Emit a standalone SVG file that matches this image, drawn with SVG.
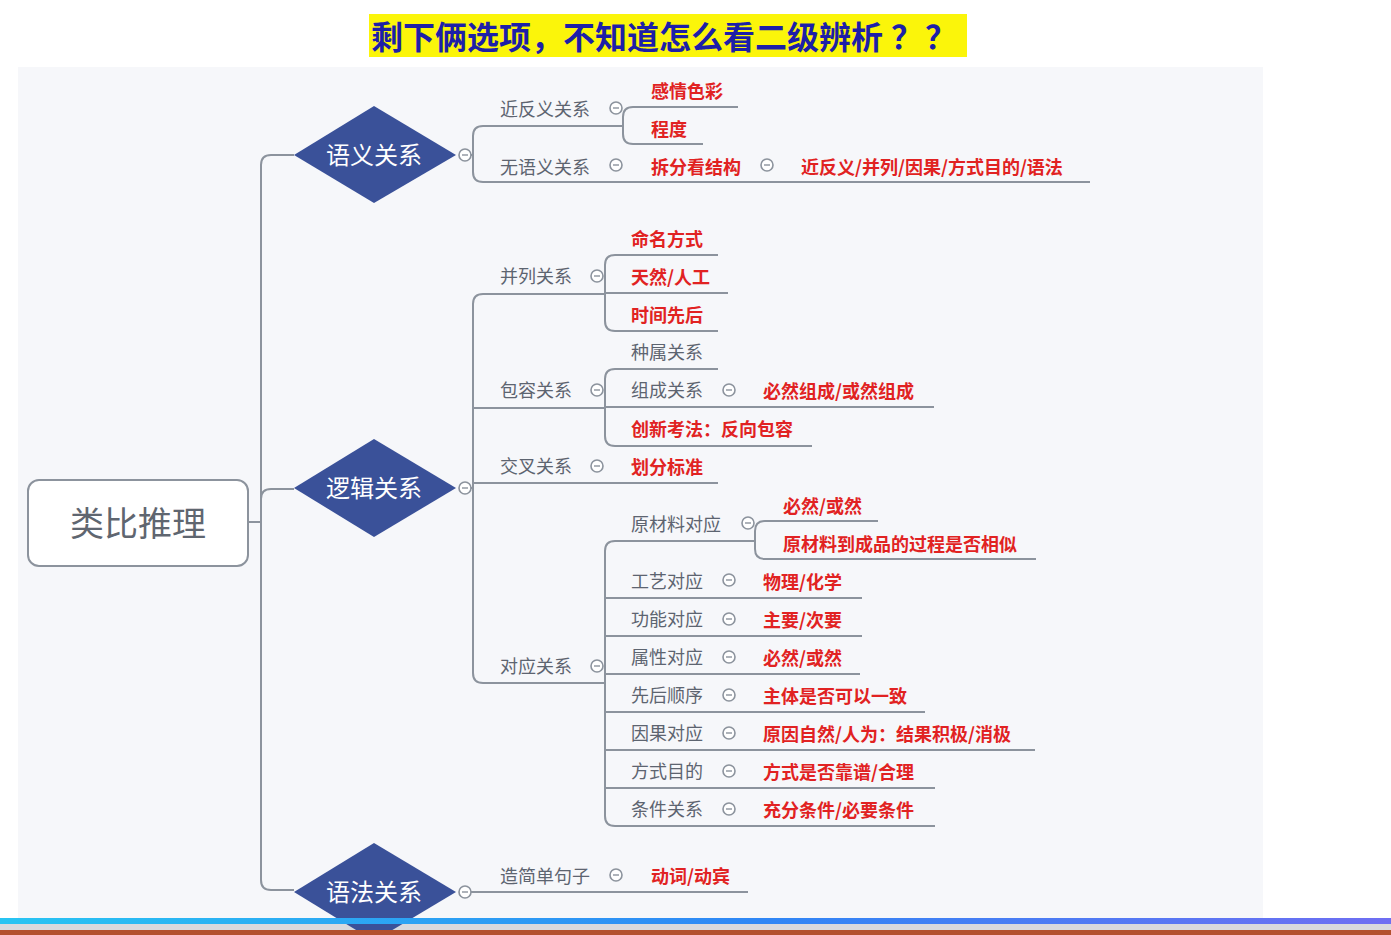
<svg xmlns="http://www.w3.org/2000/svg" width="1391" height="935" viewBox="0 0 1391 935">
<defs>
<style>
text{font-family:"Noto Sans CJK SC","Noto Sans",sans-serif;}
.g{font-size:18px;fill:#5d6470;}
.r{font-size:18px;fill:#e12222;font-weight:bold;}
.d{font-size:24px;fill:#ffffff;text-anchor:middle;}
.ln{fill:none;stroke:#8c939d;stroke-width:2;}
.c{fill:#ffffff;stroke:#8c939d;stroke-width:1.6;}
.dm{fill:#3a5199;}
</style>
<linearGradient id="bar" x1="0" x2="1" y1="0" y2="0">
<stop offset="0" stop-color="#28c4f2"/>
<stop offset="0.55" stop-color="#2f86f5"/>
<stop offset="1" stop-color="#6f6ef2"/>
</linearGradient>
<g id="col"><circle class="c" r="6"/><line x1="-3" y1="0" x2="3" y2="0" stroke="#8c939d" stroke-width="1.4"/></g>
</defs>
<rect width="1391" height="935" fill="#ffffff"/>
<rect x="18" y="67" width="1245" height="851" fill="#f6f7fa"/>
<rect x="0" y="924" width="1391" height="6" fill="#d9d9dd"/>

<g id="title">
<rect x="369" y="14" width="598" height="43" fill="#fbf50a"/>
<text x="371" y="49" font-size="32" font-weight="bold" fill="#1d1fa8">剩下俩选项，不知道怎么看二级辨析<tspan dx="8">？</tspan><tspan dx="2">？</tspan></text>
</g>

<g id="connectors">
<path class="ln" d="M248,522 H261"/>
<path class="ln" d="M294,155 H271 Q261,155 261,165 V880 Q261,890 271,890 H294"/>
<path class="ln" d="M261,499 Q261,489 271,489 H294"/>
<path class="ln" d="M459,155 H473"/>
<path class="ln" d="M623,126 H483 Q473,126 473,136 V172 Q473,182 483,182 H1090"/>
<path class="ln" d="M738,107 H633 Q623,107 623,117 V134 Q623,144 633,144 H703"/>
<path class="ln" d="M459,488 H473"/>
<path class="ln" d="M605,294 H483 Q473,294 473,304 V673 Q473,683 483,683 H605"/>
<path class="ln" d="M473,408 H605"/>
<path class="ln" d="M473,483 H718"/>
<path class="ln" d="M718,255 H615 Q605,255 605,265 V321 Q605,331 615,331 H718"/>
<path class="ln" d="M605,293 H728"/>
<path class="ln" d="M718,369 H615 Q605,369 605,379 V436 Q605,446 615,446 H812"/>
<path class="ln" d="M605,407 H934"/>
<path class="ln" d="M755,541 H615 Q605,541 605,551 V816 Q605,826 615,826 H935"/>
<path class="ln" d="M605,598 H862 M605,636 H862 M605,674 H860 M605,712 H925 M605,750 H1035 M605,788 H935"/>
<path class="ln" d="M878,521 H765 Q755,521 755,531 V549 Q755,559 765,559 H1036"/>
<path class="ln" d="M459,892 H748"/>
</g>

<g id="root">
<rect x="28" y="480" width="220" height="86" rx="11" fill="#ffffff" stroke="#8c939d" stroke-width="2"/>
<text x="138" y="536" font-size="34" fill="#5f6670" text-anchor="middle">类比推理</text>
</g>

<g id="semantic">
<polygon class="dm" points="294,155 374,106 456,155 374,203"/>
<text class="d" x="374" y="163.5">语义关系</text>
<use href="#col" x="465" y="155"/>
</g>
<g id="logic">
<polygon class="dm" points="294,488 374,439 456,488 374,537"/>
<text class="d" x="374" y="496.5">逻辑关系</text>
<use href="#col" x="465" y="488"/>
</g>
<g id="grammar">
<polygon class="dm" points="294,892 374,843 456,892 374,941"/>
<text class="d" x="374" y="900.5">语法关系</text>
<use href="#col" x="465" y="892"/>
</g>

<g id="n-jinfanyi"><text class="g" x="500" y="115.5">近反义关系</text><use href="#col" x="616" y="108"/></g>
<g id="n-ganqing"><text class="r" x="651" y="97.5">感情色彩</text></g>
<g id="n-chengdu"><text class="r" x="651" y="135.5">程度</text></g>
<g id="n-wuyuyi"><text class="g" x="500" y="173.5">无语义关系</text><use href="#col" x="616" y="165"/></g>
<g id="n-chaifen"><text class="r" x="651" y="173.5">拆分看结构</text><use href="#col" x="767" y="165"/></g>
<g id="n-jinfan2"><text class="r" x="801" y="173.5">近反义/并列/因果/方式目的/语法</text></g>

<g id="n-binglie"><text class="g" x="500" y="282.5">并列关系</text><use href="#col" x="597" y="276"/></g>
<g id="n-mingming"><text class="r" x="631" y="245.5">命名方式</text></g>
<g id="n-tianran"><text class="r" x="631" y="283.5">天然/人工</text></g>
<g id="n-shijian"><text class="r" x="631" y="321.5">时间先后</text></g>

<g id="n-baorong"><text class="g" x="500" y="396.5">包容关系</text><use href="#col" x="597" y="390"/></g>
<g id="n-zhongshu"><text class="g" x="631" y="358.5">种属关系</text></g>
<g id="n-zucheng"><text class="g" x="631" y="396.5">组成关系</text><use href="#col" x="729" y="390"/></g>
<g id="n-biranzucheng"><text class="r" x="763" y="397.5">必然组成/或然组成</text></g>
<g id="n-chuangxin"><text class="r" x="631" y="435.5">创新考法：反向包容</text></g>

<g id="n-jiaocha"><text class="g" x="500" y="472.5">交叉关系</text><use href="#col" x="597" y="466"/></g>
<g id="n-huafen"><text class="r" x="631" y="473.5">划分标准</text></g>

<g id="n-duiying"><text class="g" x="500" y="672.5">对应关系</text><use href="#col" x="597" y="666"/></g>
<g id="n-yuancailiao"><text class="g" x="631" y="530.5">原材料对应</text><use href="#col" x="748" y="523"/></g>
<g id="n-biran1"><text class="r" x="783" y="512.5">必然/或然</text></g>
<g id="n-guocheng"><text class="r" x="783" y="550.5">原材料到成品的过程是否相似</text></g>
<g id="n-gongyi"><text class="g" x="631" y="587.5">工艺对应</text><use href="#col" x="729" y="580"/><text class="r" x="763" y="588.5">物理/化学</text></g>
<g id="n-gongneng"><text class="g" x="631" y="625.5">功能对应</text><use href="#col" x="729" y="619"/><text class="r" x="763" y="626.5">主要/次要</text></g>
<g id="n-shuxing"><text class="g" x="631" y="663.5">属性对应</text><use href="#col" x="729" y="657"/><text class="r" x="763" y="664.5">必然/或然</text></g>
<g id="n-xianhou"><text class="g" x="631" y="701.5">先后顺序</text><use href="#col" x="729" y="695"/><text class="r" x="763" y="702.5">主体是否可以一致</text></g>
<g id="n-yinguo"><text class="g" x="631" y="739.5">因果对应</text><use href="#col" x="729" y="733"/><text class="r" x="763" y="740.5">原因自然/人为：结果积极/消极</text></g>
<g id="n-fangshi"><text class="g" x="631" y="777.5">方式目的</text><use href="#col" x="729" y="771"/><text class="r" x="763" y="778.5">方式是否靠谱/合理</text></g>
<g id="n-tiaojian"><text class="g" x="631" y="815.5">条件关系</text><use href="#col" x="729" y="809"/><text class="r" x="763" y="816.5">充分条件/必要条件</text></g>

<g id="n-zaojuzi"><text class="g" x="500" y="882.5">造简单句子</text><use href="#col" x="616" y="875"/><text class="r" x="651" y="882.5">动词/动宾</text></g>

<rect x="0" y="918" width="1391" height="6" fill="url(#bar)"/>
<rect x="0" y="930" width="1391" height="5" fill="#b4502e"/>
</svg>
